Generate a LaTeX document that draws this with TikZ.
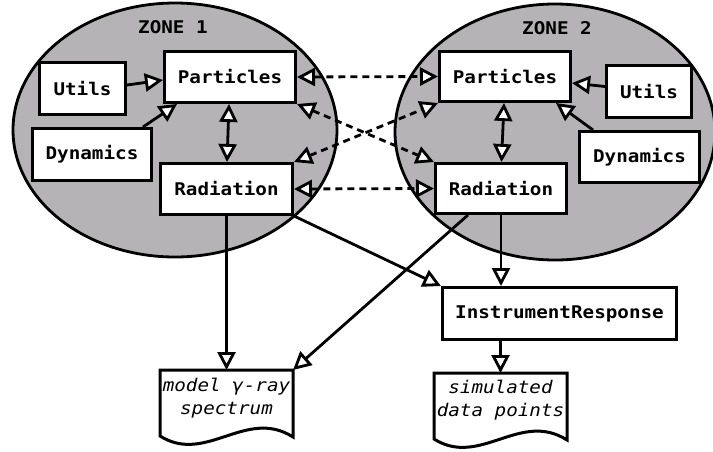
\documentclass[tikz,border=0pt]{standalone}
\usepackage{fontspec}
\setmonofont{DejaVu Sans Mono}[FakeStretch=1.1]
\usetikzlibrary{arrows.meta}
\definecolor{zonegray}{RGB}{181,179,181}
\tikzset{
  >={Triangle[fill=white, length=18pt, width=18pt]},
  zone/.style={draw=black, line width=2.8pt, fill=zonegray},
  zonelabel/.style={inner sep=0pt, font=\fontsize{17.5}{21}\selectfont\ttfamily\bfseries},
  module/.style={draw=black, fill=white, line width=3pt, inner sep=0pt,
    font=\fontsize{17.5}{21}\selectfont\ttfamily\bfseries},
  doctext/.style={inner sep=0pt, align=center,
    font=\fontsize{17.5}{23}\selectfont\ttfamily\itshape},
  docshape/.style={draw=black, fill=white, line width=3pt},
  flow/.style={line width=2.8pt, ->},
  link/.style={line width=2.8pt, <->},
  exchange/.style={line width=2.8pt, <->, dash pattern=on 7pt off 5pt},
}
\begin{document}
\begin{tikzpicture}[x=1pt, y=-1pt]
\useasboundingbox (0,0) rectangle (713,451);

% the two emission zones
\draw[zone] (175,130) ellipse [x radius=162pt, y radius=127pt];
\draw[zone] (555,132) ellipse [x radius=160pt, y radius=128pt];
\node[zonelabel] (z1) at (173,27) {ZONE 1};
\node[zonelabel] (z2) at (557,28) {ZONE 2};

% zone 1 modules
\node[module, minimum width=86pt, minimum height=52pt] (u1) at (82.5,88.5) {Utils};
\node[module, minimum width=131pt, minimum height=51pt] (p1) at (230,77) {Particles};
\node[module, minimum width=119pt, minimum height=52pt] (d1) at (92,154.5) {Dynamics};
\node[module, minimum width=132pt, minimum height=51pt] (r1) at (226.5,189) {Radiation};

% zone 2 modules
\node[module, minimum width=131pt, minimum height=50pt] (p2) at (505,76.5) {Particles};
\node[module, minimum width=85pt, minimum height=52pt] (u2) at (649,91.5) {Utils};
\node[module, minimum width=120pt, minimum height=51pt] (d2) at (639.5,157) {Dynamics};
\node[module, minimum width=131pt, minimum height=50pt] (r2) at (501,188.5) {Radiation};

% detector response
\node[module, minimum width=234pt, minimum height=52pt] (ir) at (559.5,313.5) {InstrumentResponse};

% output documents
\coordinate (specnw) at (160,370);
\coordinate (specne) at (293,370);
\draw[docshape] (specnw) -- (specne) -- (293,437)
  .. controls +(-47,-30) and +(46,29) .. (160,436) -- cycle;
\node[doctext] (spec) at (226.5,398) {model γ-ray\\spectrum};

\coordinate (simnw) at (434,373);
\coordinate (simne) at (567,373);
\draw[docshape] (simnw) -- (simne) -- (567,440)
  .. controls +(-47,-30) and +(46,29) .. (434,439) -- cycle;
\node[doctext] (sim) at (500.5,400) {simulated\\data points};

% connections inside zone 1
\draw[flow] ([yshift=3.5pt]u1.east) -- ([yshift=-3pt]p1.west);
\draw[flow] ([xshift=-10pt]d1.north east) -- ([xshift=14pt]p1.south west);
\draw[link] ([xshift=-1pt]p1.south) -- ([xshift=0.5pt]r1.north);

% connections inside zone 2
\draw[flow] ([yshift=5pt]u2.west) -- ([yshift=-6.5pt]p2.east);
\draw[flow] ([xshift=15pt]d2.north west) -- ([xshift=-16pt]p2.south east);
\draw[link] ([xshift=-1pt]p2.south) -- ([xshift=0.5pt]r2.north);

% exchange between the zones
\draw[exchange] (p1.east) -- (p2.west);
\draw[exchange] (r1.east) -- (r2.west);
\draw[exchange] (p1.south east) -- (r2.north west);
\draw[exchange] (r1.north east) -- (p2.south west);

% outputs
\draw[flow] (r1.south) -- (r1.south |- specnw);
\draw[flow] ([xshift=34pt]r2.south west) -- (specne);
\draw[flow] (r1.south east) -- (ir.north west);
\draw[flow] (r2.south) -- (r2.south |- ir.north);
\draw[flow] (sim.north |- ir.south) -- (sim.north |- simnw);
\end{tikzpicture}
\end{document}
